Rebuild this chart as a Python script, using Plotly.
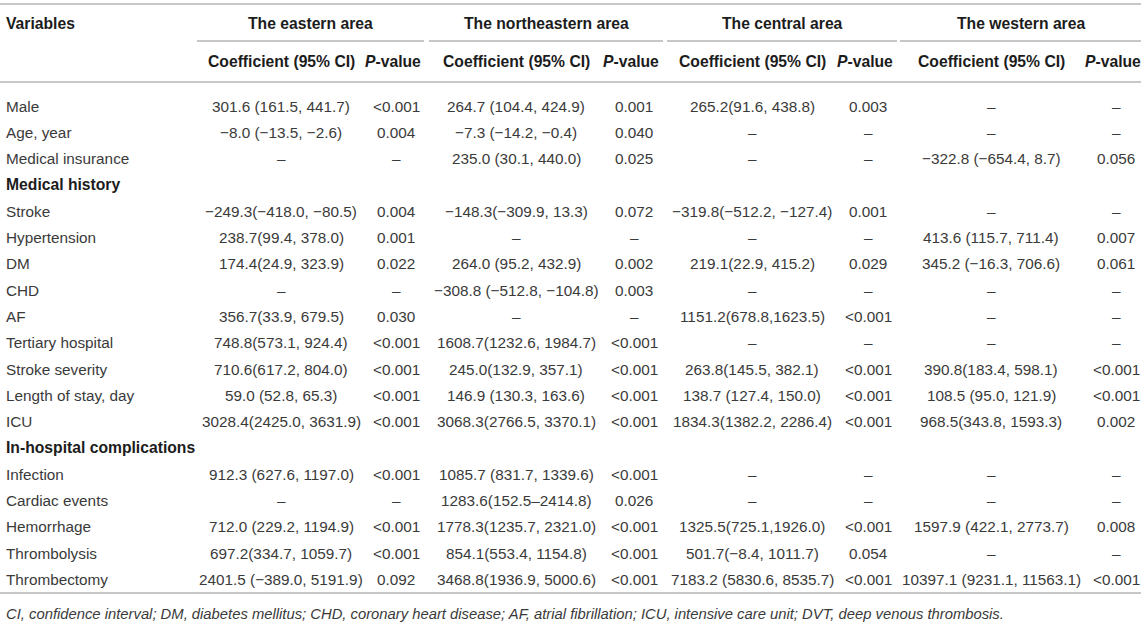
import plotly.graph_objects as go

# ### Table data

variables = ["Male", "Age, year", "Medical insurance", "Medical history", "Stroke",
             "Hypertension", "DM", "CHD", "AF", "Tertiary hospital", "Stroke severity",
             "Length of stay, day", "ICU", "In-hospital complications", "Infection",
             "Cardiac events", "Hemorrhage", "Thrombolysis", "Thrombectomy"]
section_rows = ["Medical history", "In-hospital complications"]

east_coef = ["301.6 (161.5, 441.7)", "−8.0 (−13.5, −2.6)", "–", "", "−249.3(−418.0, −80.5)",
             "238.7(99.4, 378.0)", "174.4(24.9, 323.9)", "–", "356.7(33.9, 679.5)",
             "748.8(573.1, 924.4)", "710.6(617.2, 804.0)", "59.0 (52.8, 65.3)",
             "3028.4(2425.0, 3631.9)", "", "912.3 (627.6, 1197.0)", "–",
             "712.0 (229.2, 1194.9)", "697.2(334.7, 1059.7)", "2401.5 (−389.0, 5191.9)"]
east_p = ["<0.001", "0.004", "–", "", "0.004", "0.001", "0.022", "–", "0.030", "<0.001",
          "<0.001", "<0.001", "<0.001", "", "<0.001", "–", "<0.001", "<0.001", "0.092"]

ne_coef = ["264.7 (104.4, 424.9)", "−7.3 (−14.2, −0.4)", "235.0 (30.1, 440.0)", "",
           "−148.3(−309.9, 13.3)", "–", "264.0 (95.2, 432.9)", "−308.8 (−512.8, −104.8)", "–",
           "1608.7(1232.6, 1984.7)", "245.0(132.9, 357.1)", "146.9 (130.3, 163.6)",
           "3068.3(2766.5, 3370.1)", "", "1085.7 (831.7, 1339.6)", "1283.6(152.5–2414.8)",
           "1778.3(1235.7, 2321.0)", "854.1(553.4, 1154.8)", "3468.8(1936.9, 5000.6)"]
ne_p = ["0.001", "0.040", "0.025", "", "0.072", "–", "0.002", "0.003", "–", "<0.001",
        "<0.001", "<0.001", "<0.001", "", "<0.001", "0.026", "<0.001", "<0.001", "<0.001"]

central_coef = ["265.2(91.6, 438.8)", "–", "–", "", "−319.8(−512.2, −127.4)", "–",
                "219.1(22.9, 415.2)", "–", "1151.2(678.8,1623.5)", "–", "263.8(145.5, 382.1)",
                "138.7 (127.4, 150.0)", "1834.3(1382.2, 2286.4)", "", "–", "–",
                "1325.5(725.1,1926.0)", "501.7(−8.4, 1011.7)", "7183.2 (5830.6, 8535.7)"]
central_p = ["0.003", "–", "–", "", "0.001", "–", "0.029", "–", "<0.001", "–", "<0.001",
             "<0.001", "<0.001", "", "–", "–", "<0.001", "0.054", "<0.001"]

west_coef = ["–", "–", "−322.8 (−654.4, 8.7)", "", "–", "413.6 (115.7, 711.4)",
             "345.2 (−16.3, 706.6)", "–", "–", "–", "390.8(183.4, 598.1)",
             "108.5 (95.0, 121.9)", "968.5(343.8, 1593.3)", "", "–", "–",
             "1597.9 (422.1, 2773.7)", "–", "10397.1 (9231.1, 11563.1)"]
west_p = ["–", "–", "0.056", "", "–", "0.007", "0.061", "–", "–", "–", "<0.001", "<0.001",
          "0.002", "", "–", "–", "0.008", "–", "<0.001"]

areas = ["The eastern area", "The northeastern area", "The central area", "The western area"]
sub_headers = ["Coefficient (95% CI)", "<i>P</i>-value"]
footnote = ("CI, confidence interval; DM, diabetes mellitus; CHD, coronary heart disease; "
            "AF, atrial fibrillation; ICU, intensive care unit; DVT, deep venous thrombosis.")

# column layout (pixels) and row layout (row units)
coef_x = [281, 516, 752, 991]
p_x = [396, 634, 868, 1116]
area_span = [(197, 424), (429, 663), (667, 897), (900, 1141)]
row_h = 26.3
first_row_px = 106

columns = [east_coef, east_p, ne_coef, ne_p, central_coef, central_p, west_coef, west_p]
col_x = [coef_x[0], p_x[0], coef_x[1], p_x[1], coef_x[2], p_x[2], coef_x[3], p_x[3]]


def row_of(px):
    return (px - first_row_px) / row_h


FONT = "Liberation Sans, Arial, Helvetica, sans-serif"
TXT = "#3a3a3a"
HEAD = "#1c1c1c"
RULE = "#b4b4b4"
BODY_SIZE = 15.3
HEAD_SIZE = 15.7

fig = go.Figure()
ann = []

# body cells
for i, v in enumerate(variables):
    bold = v in section_rows
    ann.append(dict(x=4, y=i, text="<b>%s</b>" % v if bold else v, xanchor="left",
                    font=dict(color=HEAD if bold else TXT, size=HEAD_SIZE if bold else BODY_SIZE)))
for xs, col in zip(col_x, columns):
    for i, val in enumerate(col):
        if val:
            ann.append(dict(x=xs, y=i, text=val.replace("<", "&lt;"), xanchor="center"))

# headers
head_font = dict(color=HEAD, size=HEAD_SIZE)
ann.append(dict(x=4, y=row_of(23), text="<b>Variables</b>", xanchor="left", font=head_font))
for a, (x0, x1), cx, px in zip(areas, area_span, coef_x, p_x):
    ann.append(dict(x=(x0 + x1) / 2, y=row_of(23), text="<b>%s</b>" % a, xanchor="center",
                    font=head_font))
    ann.append(dict(x=cx, y=row_of(61), text="<b>%s</b>" % sub_headers[0], xanchor="center",
                    font=head_font))
    ann.append(dict(x=px - 3, y=row_of(61), text="<b>%s</b>" % sub_headers[1],
                    xanchor="center", font=head_font))

ann.append(dict(x=4, y=row_of(614), text="<i>%s</i>" % footnote, xanchor="left",
                font=dict(size=14.8, color=TXT)))

for a in ann:
    a.update(xref="x", yref="y", yanchor="middle", showarrow=False)
    f = dict(family=FONT, size=BODY_SIZE, color=TXT)
    f.update(a.get("font", {}))
    a["font"] = f

# rules
shapes = []
for py in [4, 82, 593]:
    shapes.append(dict(type="line", xref="x", yref="y", x0=0, x1=1141,
                       y0=row_of(py), y1=row_of(py), line=dict(color=RULE, width=1.6)))
for x0, x1 in area_span:
    shapes.append(dict(type="line", xref="x", yref="y", x0=x0, x1=x1,
                       y0=row_of(41), y1=row_of(41), line=dict(color=RULE, width=1.6)))

fig.update_layout(
    width=1146, height=630,
    margin=dict(l=0, r=0, t=0, b=0),
    paper_bgcolor="white", plot_bgcolor="white",
    xaxis=dict(range=[0, 1146], visible=False, fixedrange=True),
    yaxis=dict(range=[row_of(630), row_of(0)], visible=False, fixedrange=True),
    annotations=ann, shapes=shapes, showlegend=False,
)

# page body has a default margin, drop it so the figure fills the window
fig.write_html("out.html", config={"displayModeBar": False},
               post_script="document.body.style.margin='0';")
